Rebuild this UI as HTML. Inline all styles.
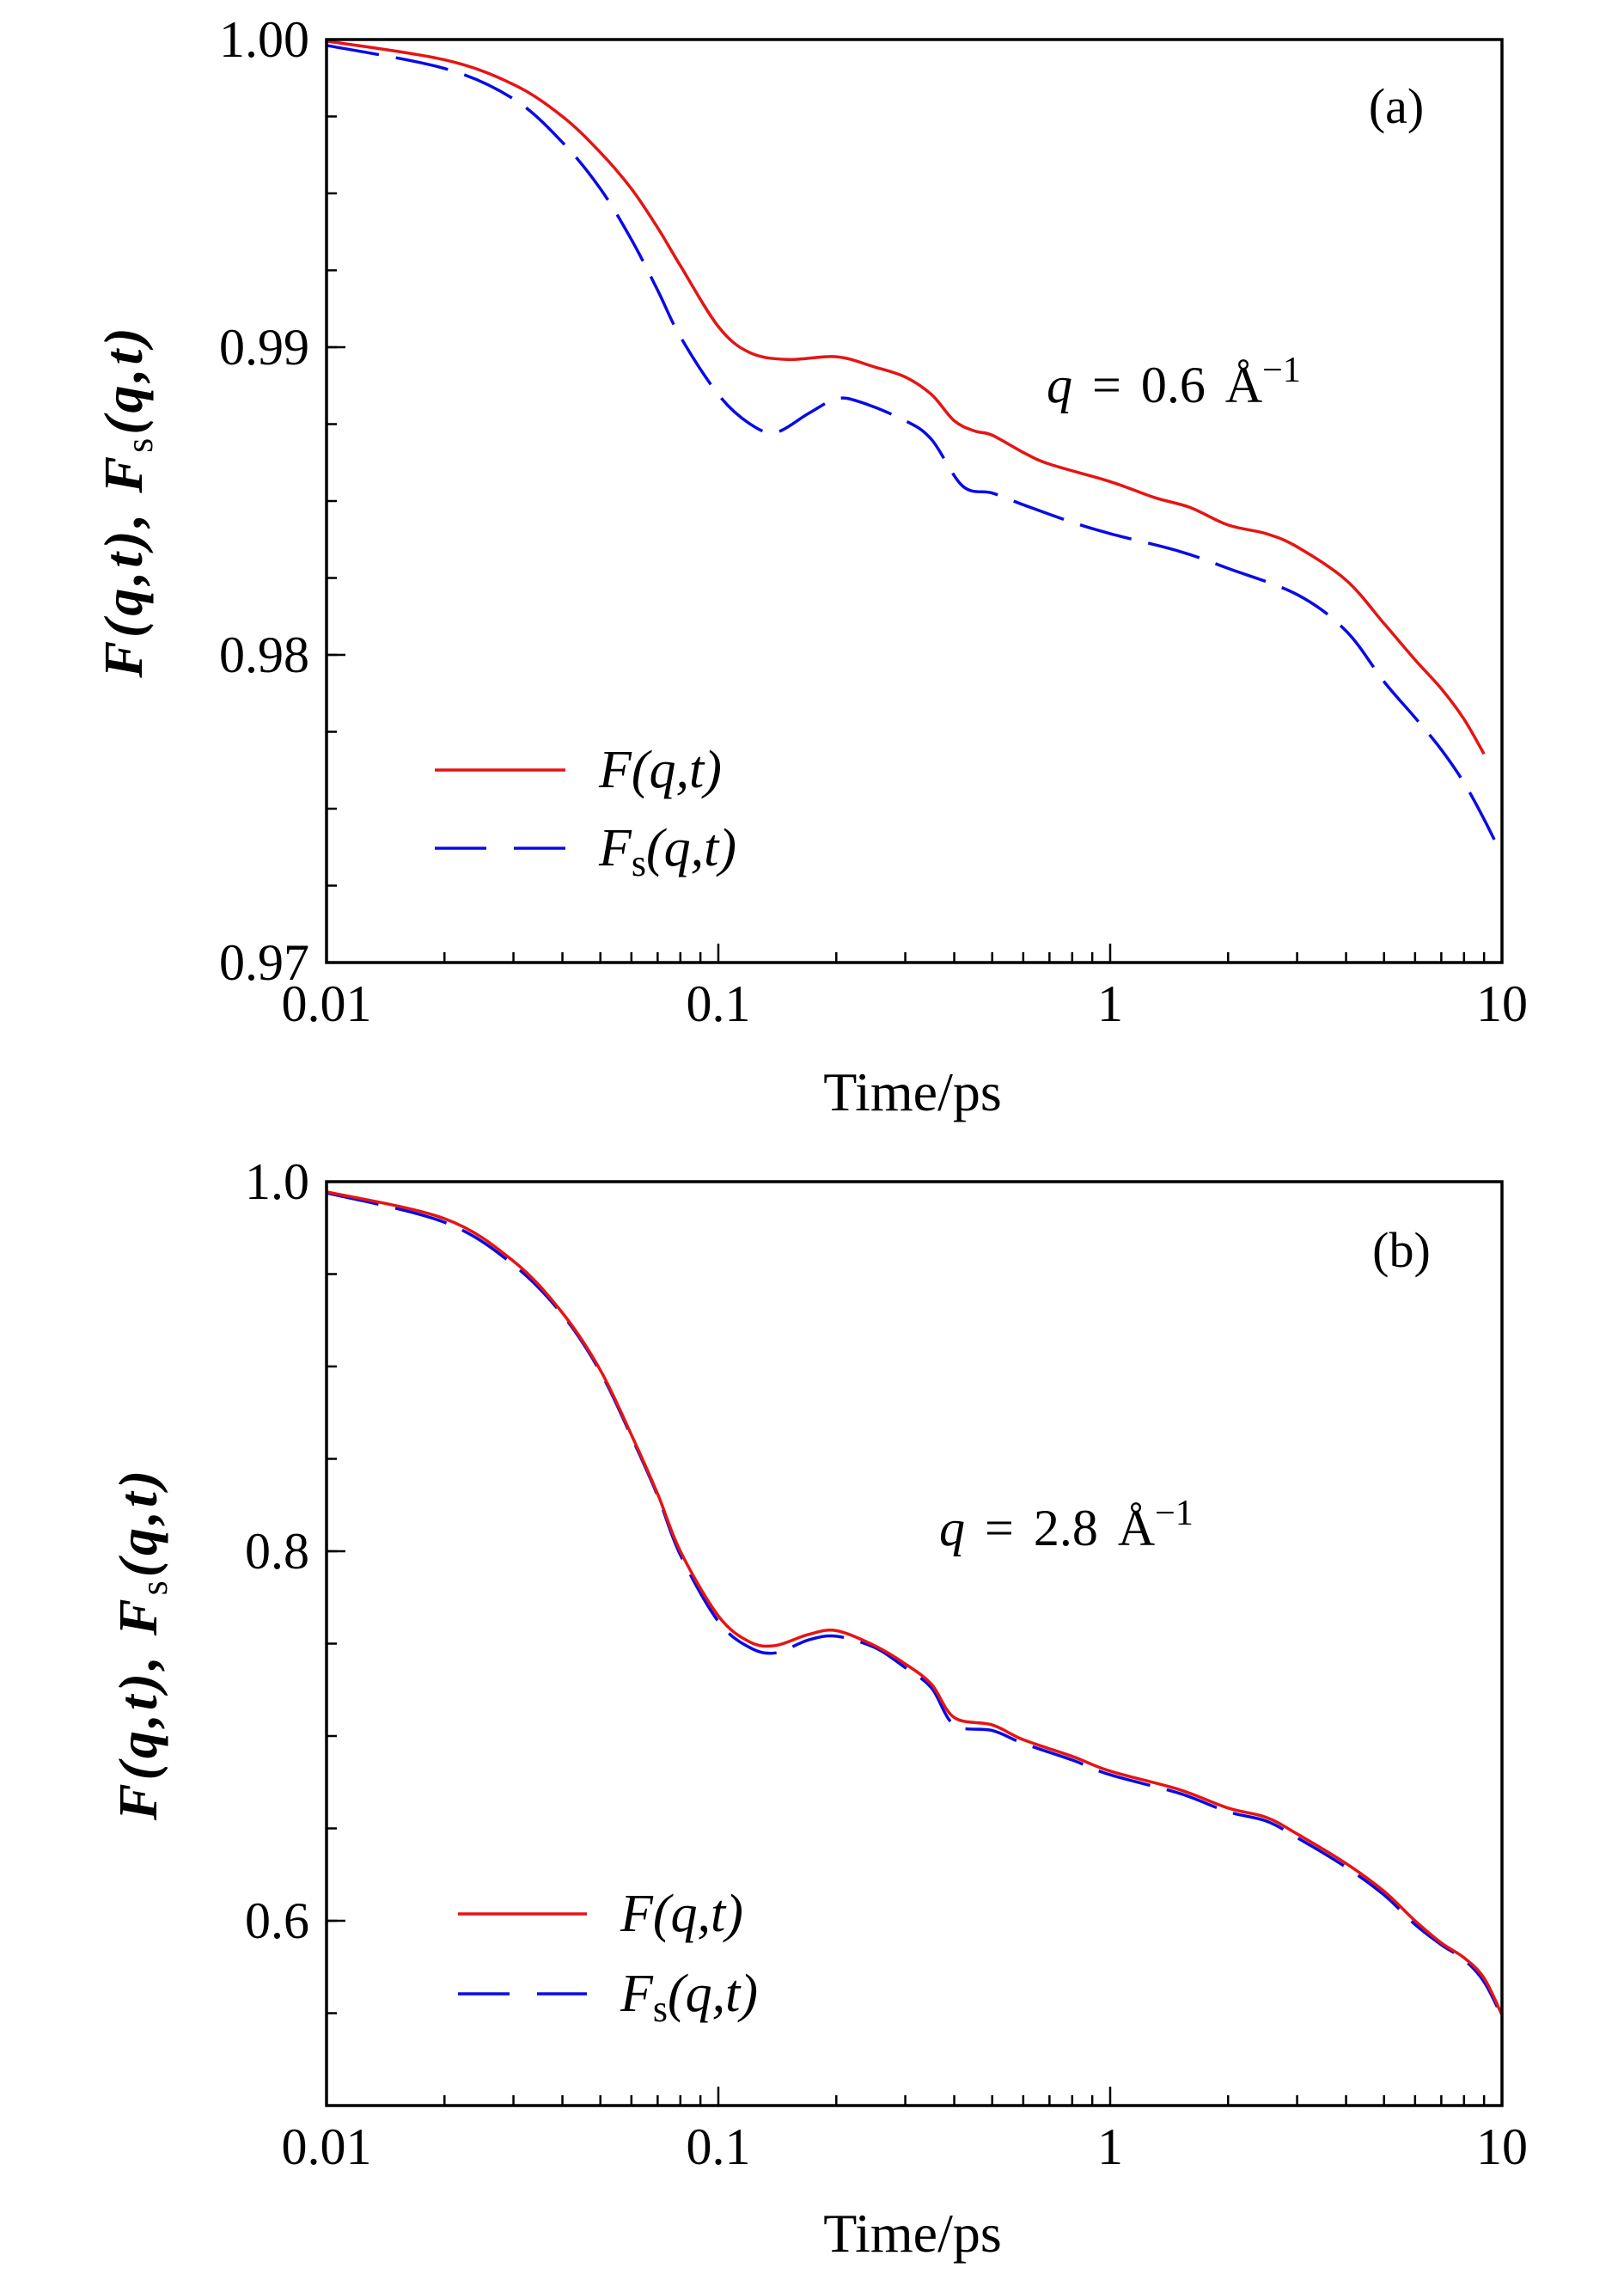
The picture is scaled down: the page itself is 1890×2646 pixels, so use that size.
<!DOCTYPE html>
<html><head><meta charset="utf-8"><style>
html,body{margin:0;padding:0;background:#fff;}
svg{display:block;font-family:"Liberation Serif",serif;}
</style></head><body>
<svg id="chart" width="1890" height="2646" viewBox="0 0 1890 2646"></svg>
<script>
// Panel (a) data
const timesA = [0.01,0.02,0.03,0.04,0.05,0.06,0.07,0.08,0.1,0.12,0.15,0.2,0.25,0.3,0.35,0.4,0.45,0.5,0.6,0.7,1.0,1.3,1.6,2.0,2.5,3,4,5,6,7,8,9];
const fA = [0.99995,0.99934,0.99854,0.9975,0.99633,0.99515,0.99388,0.99265,0.99067,0.98983,0.9896,0.98969,0.98936,0.98903,0.98846,0.98761,0.98728,0.98714,0.98658,0.9862,0.98563,0.98511,0.98479,0.98422,0.98394,0.98351,0.98243,0.98102,0.97984,0.9789,0.97791,0.97678];
const timesAs = [0.01,0.02,0.03,0.04,0.05,0.06,0.07,0.08,0.1,0.12,0.14,0.17,0.2,0.23,0.3,0.35,0.42,0.5,0.6,0.8,1.0,1.5,2,3,4,5,6,7,8,9,10];
const fsA = [0.99981,0.99906,0.99807,0.99666,0.99515,0.9935,0.99185,0.99034,0.98846,0.98752,0.98723,0.98785,0.98832,0.98822,0.98761,0.987,0.98549,0.98526,0.98488,0.98431,0.98394,0.98337,0.98281,0.98196,0.98078,0.97913,0.97796,0.97692,0.97584,0.97466,0.97348];
// Panel (b) data
const timesB = [0.01,0.02,0.03,0.04,0.05,0.06,0.07,0.08,0.1,0.12,0.14,0.17,0.2,0.25,0.3,0.35,0.4,0.5,0.6,0.8,1.0,1.5,2,2.5,3,4,5,6,7,8,9,10];
const fB = [0.9945,0.980,0.957,0.929,0.898,0.863,0.831,0.800,0.765,0.751,0.749,0.755,0.757,0.749,0.739,0.728,0.710,0.706,0.698,0.689,0.681,0.671,0.661,0.656,0.647,0.631,0.616,0.600,0.588,0.580,0.569,0.549];
const fsB = [0.9940,0.978,0.955,0.928,0.897,0.862,0.830,0.798,0.762,0.748,0.745,0.752,0.754,0.748,0.737,0.726,0.706,0.703,0.696,0.687,0.679,0.669,0.659,0.654,0.645,0.629,0.614,0.598,0.587,0.579,0.567,0.548];
const xTickLabels = ["0.01","0.1","1","10"];
const yTicksA = [1.00,0.99,0.98,0.97];
const yTickLabelsA = ["1.00","0.99","0.98","0.97"];
const yTicksB = [1.0,0.8,0.6];
const yTickLabelsB = ["1.0","0.8","0.6"];

const NS="http://www.w3.org/2000/svg";
const svg=document.getElementById('chart');
function el(tag,attrs,parent){const e=document.createElementNS(NS,tag);for(const k in attrs)e.setAttribute(k,attrs[k]);(parent||svg).appendChild(e);return e;}

function smoothPath(pts){
  let d="M"+pts[0][0].toFixed(1)+","+pts[0][1].toFixed(1);
  for(let i=0;i<pts.length-1;i++){
    const p0=pts[Math.max(0,i-1)],p1=pts[i],p2=pts[i+1],p3=pts[Math.min(pts.length-1,i+2)];
    const c1x=p1[0]+(p2[0]-p0[0])/6,c1y=p1[1]+(p2[1]-p0[1])/6;
    const c2x=p2[0]-(p3[0]-p1[0])/6,c2y=p2[1]-(p3[1]-p1[1])/6;
    d+=" C"+c1x.toFixed(1)+","+c1y.toFixed(1)+" "+c2x.toFixed(1)+","+c2y.toFixed(1)+" "+p2[0].toFixed(1)+","+p2[1].toFixed(1);
  }
  return d;
}

function panel(cfg){
  const L=380,R=1748,T=cfg.top,B=cfg.bottom;
  const g=el('g',{});
  
  
  const xs=t=>L+(Math.log10(t)+2)/3*(R-L);
  const ys=v=>T+(cfg.ymax-v)/(cfg.ymax-cfg.ymin)*(B-T);
  const cid='clip-'+cfg.name;
  const cp=el('clipPath',{id:cid},g);el('rect',{x:L,y:T,width:R-L,height:B-T},cp);
  for(let dec=0;dec<3;dec++){
    for(let m=2;m<=9;m++){
      const x=xs(Math.pow(10,dec-2)*m);
      const t=el('line',{x1:x,x2:x,y1:B,y2:B-12,stroke:'#000','stroke-width':2.5},g);
      
      
    }
  }
  for(let i=0;i<4;i++){
    const x=xs(Math.pow(10,i-2));
    const t=el('line',{x1:x,x2:x,y1:B,y2:B-22,stroke:'#000','stroke-width':2.5},g);
    
    
    const lb=el('text',{x:x,y:B+68,'font-size':60,'text-anchor':'middle'},g);
    lb.textContent=xTickLabels[i];
    
    
  }
  for(let v=cfg.ymin;v<=cfg.ymax+1e-9;v+=cfg.minor){
    const y=ys(v);
    const t=el('line',{x1:L,x2:L+12,y1:y,y2:y,stroke:'#000','stroke-width':2.5},g);
    
    
  }
  cfg.yTicks.forEach((v,i)=>{
    const y=ys(v);
    const t=el('line',{x1:L,x2:L+22,y1:y,y2:y,stroke:'#000','stroke-width':2.5},g);
    
    
    const lb=el('text',{x:L-20,y:y+20,'font-size':60,'text-anchor':'end'},g);
    lb.textContent=cfg.yLabels[i];
    
    
  });
  const fs=el('path',{d:smoothPath(cfg.ts.map((t,i)=>[xs(t),ys(cfg.fs[i])])),fill:'none',stroke:'#0a0ae6','stroke-width':3.5,'stroke-dasharray':'62 20','clip-path':'url(#'+cid+')'},g);
  
  
  const f=el('path',{d:smoothPath(cfg.t.map((t,i)=>[xs(t),ys(cfg.f[i])])),fill:'none',stroke:'#e61414','stroke-width':3.5,'clip-path':'url(#'+cid+')'},g);
  
  
  const fr=el('rect',{x:L,y:T,width:R-L,height:B-T,fill:'none',stroke:'#000','stroke-width':3.5},g);
  
  
  const xt=el('text',{x:1062,y:cfg.xTitleY,'font-size':64,'text-anchor':'middle'},g);
  xt.textContent='Time/ps';
  
  
  const yt=el('text',{transform:'translate('+cfg.yTitleX+','+((T+B)/2)+') rotate(-90)','font-size':64,'text-anchor':'middle','font-style':'italic','font-weight':'bold','letter-spacing':'4'},g);
  yt.innerHTML='F(q,t), F<tspan font-size="44" dy="12" font-style="normal" font-weight="normal">s</tspan><tspan dy="-12">(q,t)</tspan>';
  
  
  const pl=el('text',{x:cfg.pl[0],y:cfg.pl[1],'font-size':58,'text-anchor':'middle'},g);
  pl.textContent=cfg.plText;
  
  
  const q=el('text',{x:cfg.q[0],y:cfg.q[1],'font-size':60,'word-spacing':'8'},g);
  q.innerHTML='<tspan font-style="italic">q</tspan> = '+cfg.qv+'  Å<tspan font-size="42" dy="-24">−1</tspan>';
  
  
  const lg=el('g',{},g);
  
  
  const [lx1,lx2,ly1,ly2,tx]=cfg.leg;
  const l1=el('line',{x1:lx1,x2:lx2,y1:ly1,y2:ly1,stroke:'#e61414','stroke-width':3.5},lg);
  
  
  const t1=el('text',{x:tx,y:ly1+20,'font-size':62,'font-style':'italic'},lg);
  t1.textContent='F(q,t)';
  
  
  const l2=el('line',{x1:lx1,x2:lx2,y1:ly2,y2:ly2,stroke:'#0a0ae6','stroke-width':3.5,'stroke-dasharray':'60 32'},lg);
  
  
  const t2=el('text',{x:tx,y:ly2+20,'font-size':62,'font-style':'italic'},lg);
  t2.innerHTML='F<tspan font-size="44" dy="12" font-style="normal">s</tspan><tspan dy="-12">(q,t)</tspan>';
  
  
}

panel({name:'panel-a',top:46,bottom:1120,ymin:0.97,ymax:1.0,minor:0.0025,yTicks:yTicksA,yLabels:yTickLabelsA,
  t:timesA,f:fA,ts:timesAs,fs:fsA,xTitleY:1292,yTitleX:165,pl:[1625,143],plText:'(a)',q:[1218,468],qv:'0.6',
  leg:[506,658,896,987,697]});
panel({name:'panel-b',top:1375,bottom:2450,ymin:0.5,ymax:1.0,minor:0.05,yTicks:yTicksB,yLabels:yTickLabelsB,
  t:timesB,f:fB,ts:timesB,fs:fsB,xTitleY:2620,yTitleX:182,pl:[1631,1474],plText:'(b)',q:[1093,1798],qv:'2.8',
  leg:[533,683,2227,2320,722]});
</script>
</body></html>
